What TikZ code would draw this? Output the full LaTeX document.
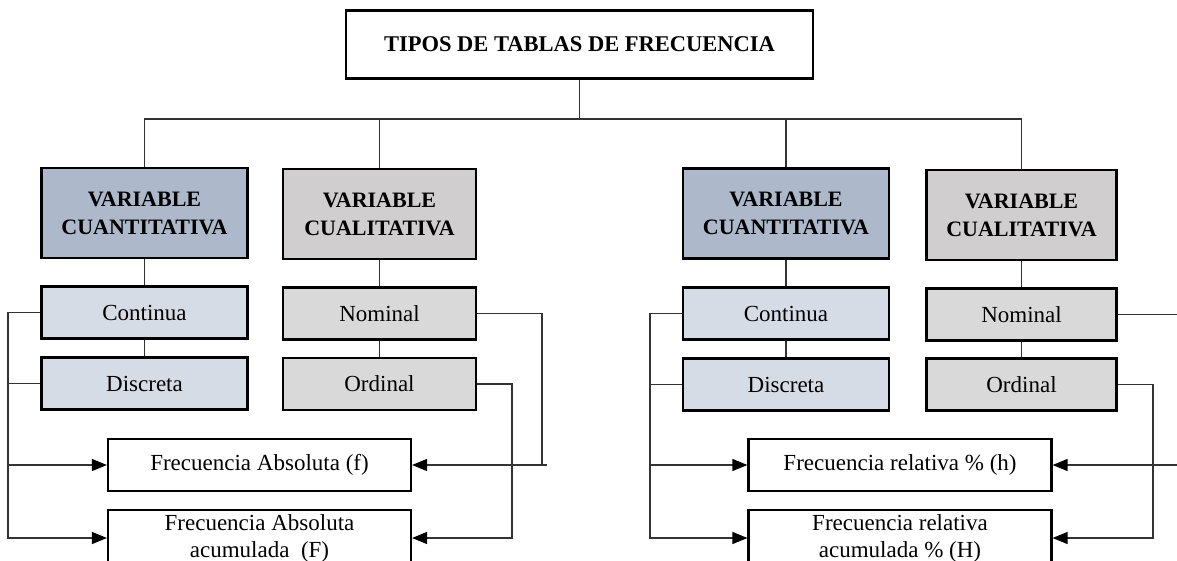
\documentclass[tikz,border=0pt]{standalone}
\usepackage{fontspec}
\setmainfont{Liberation Serif}
\usetikzlibrary{positioning, arrows.meta}
\definecolor{cuantfill}{HTML}{ADB9CA}
\definecolor{cualfill}{HTML}{D0CECE}
\definecolor{subcuant}{HTML}{D6DCE5}
\definecolor{subcual}{HTML}{D9D9D9}
\definecolor{wirec}{HTML}{333333}

\begin{document}
\begin{tikzpicture}[
                    % GLOBAL CFG
                    x=1pt, y=-1pt,
                    font=\fontsize{23}{27}\selectfont,
                    >={Triangle[length=15pt, width=12pt, color=black]},
                    % Styles
                    box/.style={% Every framed box
                            rectangle,
                            draw,
                            line width=2.2pt,
                            inner sep=0pt,
                            align=center,
                        },
                    head/.style={% Top level variable boxes
                            box,
                            font=\fontsize{22}{28}\selectfont\bfseries,
                            minimum height=90pt,
                        },
                    sub/.style={% Continua, Discreta, Nominal, Ordinal
                            box,
                            minimum height=52pt,
                        },
                    freq/.style={% Output boxes
                            box,
                            fill=white,
                            minimum width=303pt,
                        },
                    wire/.style={% Thin connectors
                            draw=wirec,
                            line width=1.3pt,
                        },
                ]

                % Canvas
                \useasboundingbox (0,0) rectangle (1177,560);
                \fill[white] (0,0) rectangle (1177,560);

                % Title
                \node [box, font=\fontsize{22.5}{27}\selectfont\bfseries,
                       minimum width=467pt, minimum height=68pt] (title) at (579.5,44.5) {TIPOS DE TABLAS DE FRECUENCIA};
                \coordinate (split) at (579.5,119);

                % Left group named #1
                \node [head, fill=cuantfill, minimum width=206pt] (cuant1) at (144.5,213) {VARIABLE\\CUANTITATIVA};
                \node [head, fill=cualfill, minimum width=193pt] (cual1) at (379.5,214) {VARIABLE\\CUALITATIVA};
                \node [sub, fill=subcuant, minimum width=206pt] (cont1) at (144.5,312.5) {Continua};
                \node [sub, fill=subcuant, minimum width=206pt] (disc1) at (144.5,383.5) {Discreta};
                \node [sub, fill=subcual, minimum width=193pt] (nom1) at (379.5,313.5) {Nominal};
                \node [sub, fill=subcual, minimum width=193pt] (ord1) at (379.5,384) {Ordinal};
                \node [freq, minimum height=52pt] (fabs1) at (259.5,465) {Frecuencia Absoluta (f)};
                \node [freq, minimum height=56pt] (facum1) at (259.5,538) {Frecuencia Absoluta\\acumulada~~(F)};

                % Right group named #2
                \node [head, fill=cuantfill, minimum width=206pt] (cuant2) at (786,213.5) {VARIABLE\\CUANTITATIVA};
                \node [head, fill=cualfill, minimum width=190pt] (cual2) at (1021.5,215) {VARIABLE\\CUALITATIVA};
                \node [sub, fill=subcuant, minimum width=206pt] (cont2) at (786,313.5) {Continua};
                \node [sub, fill=subcuant, minimum width=206pt] (disc2) at (786,384.5) {Discreta};
                \node [sub, fill=subcual, minimum width=190pt] (nom2) at (1021.5,314.5) {Nominal};
                \node [sub, fill=subcual, minimum width=190pt] (ord2) at (1021.5,384.5) {Ordinal};
                \node [freq, minimum height=52pt] (fabs2) at (900,465) {Frecuencia relativa \% (h)};
                \node [freq, minimum height=56pt] (facum2) at (900,538) {Frecuencia relativa\\acumulada \% (H)};

                % Bus lines
                \coordinate (lbus1) at (8,0);
                \coordinate (nbus1) at (542,0);
                \coordinate (obus1) at (512,0);
                \coordinate (lbus2) at (650,0);
                \coordinate (nbus2) at (1183,0);
                \coordinate (obus2) at (1153,0);

                % Tree
                \draw [wire] (title) -- (split);
                \draw [wire] (cuant1.north) |- (split) -| (cual2.north);
                \draw [wire] (cual1.north) -- (cual1.north |- split);
                \draw [wire] (cuant2.north) -- (cuant2.north |- split);

                % Vertical links
                \draw [wire] (cuant1) -- (cont1) -- (disc1);
                \draw [wire] (cual1) -- (nom1) -- (ord1);
                \draw [wire] (cuant2) -- (cont2) -- (disc2);
                \draw [wire] (cual2) -- (nom2) -- (ord2);

                % Left group arrows
                \draw [wire, ->] (cont1.west) -| (lbus1 |- facum1) -- (facum1.west);
                \draw [wire] (disc1.west) -- (disc1.west -| lbus1);
                \draw [wire, ->] (lbus1 |- fabs1) -- (fabs1.west);
                \draw [wire] (nom1.east) -| (nbus1 |- fabs1);
                \draw [wire, ->] ([xshift=5pt]nbus1 |- fabs1) -- (fabs1.east);
                \draw [wire, ->] (ord1.east) -| (obus1 |- facum1) -- (facum1.east);

                % Right group arrows
                \draw [wire, ->] (cont2.west) -| (lbus2 |- facum2) -- (facum2.west);
                \draw [wire] (disc2.west) -- (disc2.west -| lbus2);
                \draw [wire, ->] (lbus2 |- fabs2) -- (fabs2.west);
                \draw [wire] (nom2.east) -| (nbus2 |- fabs2);
                \draw [wire, ->] ([xshift=5pt]nbus2 |- fabs2) -- (fabs2.east);
                \draw [wire, ->] (ord2.east) -| (obus2 |- facum2) -- (facum2.east);

            \end{tikzpicture}
\end{document}
